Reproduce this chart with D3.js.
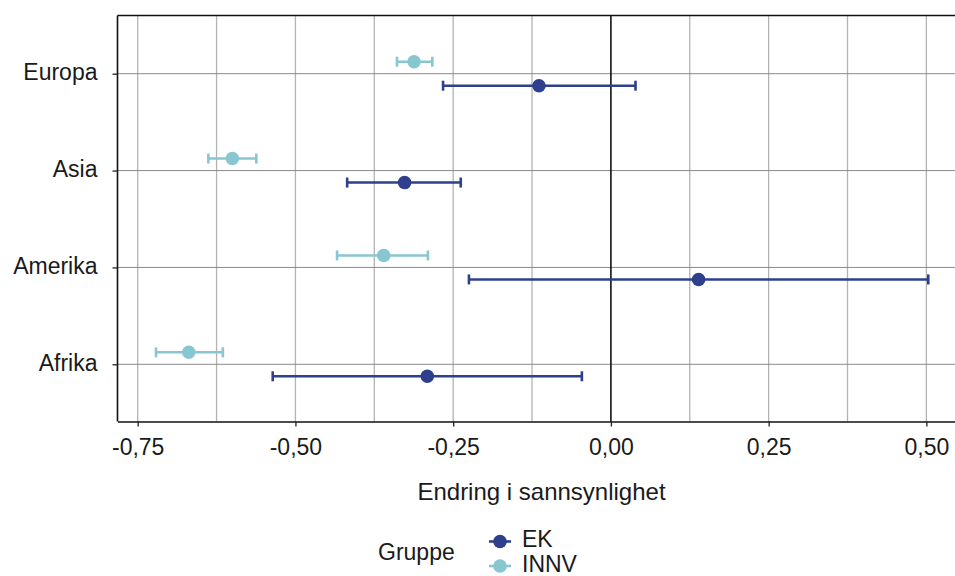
<!DOCTYPE html>
<html>
<head>
<meta charset="utf-8">
<script src="https://cdn.jsdelivr.net/npm/d3@7"></script>
<style>
  body { margin: 0; background: #fff; }
  svg { display: block; font-family: "Liberation Sans", Arial, sans-serif; }
  .grid-v line { stroke: #b3b3b3; stroke-width: 1.3; }
  .grid-h line { stroke: #8a8a8a; stroke-width: 1; }
  .axis text { fill: #1a1a1a; font-size: 23px; }
</style>
</head>
<body>
<svg id="chart" width="955" height="576"></svg>
<script>
// regions top to bottom
const regions = ["Europa", "Asia", "Amerika", "Afrika"];
const groups = ["EK", "INNV"];

// EK estimates with interval
const ekEst = [-0.114, -0.327, 0.139, -0.291];
const ekLow = [-0.266, -0.418, -0.225, -0.536];
const ekHigh = [0.039, -0.238, 0.503, -0.046];

// INNV estimates with interval
const innvEst = [-0.312, -0.600, -0.360, -0.669];
const innvLow = [-0.339, -0.638, -0.434, -0.721];
const innvHigh = [-0.283, -0.562, -0.290, -0.615];

const xTicks = [-0.75, -0.5, -0.25, 0, 0.25, 0.5];
const xMinor = [-0.625, -0.375, -0.125, 0.125, 0.375];

const colors = { EK: "#2e3f8b", INNV: "#88c6d0" };

const svg = d3.select("#chart");
const plotLeft = 117.5, plotRight = 965.5, plotTop = 15.5, plotBottom = 421.5;

const x = d3.scaleLinear().domain([-0.782, 0.562]).range([plotLeft, plotRight]);
const y = d3.scalePoint().domain(regions).range([73.7, 364.3]);
const dodge = d3.scalePoint().domain(["INNV", "EK"]).range([-12, 12]);
const fmt = v => d3.format(".2f")(v).replace(".", ",").replace("−", "-");

// build rows from arrays
const rows = [];
regions.forEach((r, i) => {
    rows.push({ region: r, group: "EK", est: ekEst[i], low: ekLow[i], high: ekHigh[i] });
    rows.push({ region: r, group: "INNV", est: innvEst[i], low: innvLow[i], high: innvHigh[i] });
});

// vertical gridlines (major + minor)
svg.append("g").attr("class", "grid-v")
    .selectAll("line")
    .data(xTicks.concat(xMinor).filter(v => v !== 0))
    .join("line")
    .attr("x1", d => x(d)).attr("x2", d => x(d))
    .attr("y1", plotTop).attr("y2", plotBottom);

// horizontal gridlines at categories
svg.append("g").attr("class", "grid-h")
    .selectAll("line")
    .data(regions)
    .join("line")
    .attr("x1", plotLeft).attr("x2", plotRight)
    .attr("y1", d => y(d)).attr("y2", d => y(d));

// zero line
svg.append("line")
    .attr("x1", x(0)).attr("x2", x(0))
    .attr("y1", plotTop).attr("y2", plotBottom)
    .attr("stroke", "#111").attr("stroke-width", 1.6);

// top border
svg.append("line")
    .attr("x1", plotLeft).attr("x2", plotRight)
    .attr("y1", plotTop).attr("y2", plotTop)
    .attr("stroke", "#111").attr("stroke-width", 1.6);

// x axis
const xAxis = svg.append("g").attr("class", "axis")
    .attr("transform", `translate(0,${plotBottom})`)
    .call(d3.axisBottom(x).tickValues(xTicks).tickFormat(fmt).tickSize(5).tickPadding(12).tickSizeOuter(0));
xAxis.select(".domain").attr("stroke", "#111").attr("stroke-width", 1.6);
xAxis.selectAll(".tick line").attr("stroke", "#222").attr("stroke-width", 1.3);

// y axis
const yAxis = svg.append("g").attr("class", "axis")
    .attr("transform", `translate(${plotLeft},0)`)
    .call(d3.axisLeft(y).tickSize(5).tickPadding(15).tickSizeOuter(0));
yAxis.select(".domain").attr("d", `M0,${plotTop}V${plotBottom}`).attr("stroke", "#111").attr("stroke-width", 1.6);
yAxis.selectAll(".tick line").attr("stroke", "#222").attr("stroke-width", 1.3);
yAxis.selectAll(".tick text").attr("dy", "0.26em");

// error bars
const bars = svg.append("g").selectAll("g")
    .data(rows)
    .join("g")
    .attr("transform", d => `translate(0,${y(d.region) + dodge(d.group)})`)
    .attr("stroke", d => colors[d.group])
    .attr("stroke-width", 2.6);

bars.append("line")
    .attr("x1", d => x(d.low)).attr("x2", d => x(d.high));
bars.append("line")
    .attr("x1", d => x(d.low)).attr("x2", d => x(d.low))
    .attr("y1", -5).attr("y2", 5);
bars.append("line")
    .attr("x1", d => x(d.high)).attr("x2", d => x(d.high))
    .attr("y1", -5).attr("y2", 5);

// points
svg.append("g").selectAll("circle")
    .data(rows)
    .join("circle")
    .attr("cx", d => x(d.est))
    .attr("cy", d => y(d.region) + dodge(d.group))
    .attr("r", 6.8)
    .attr("fill", d => colors[d.group]);

// axis title
svg.append("text")
    .attr("x", (plotLeft + plotRight) / 2).attr("y", 500)
    .attr("text-anchor", "middle")
    .attr("font-size", 24).attr("fill", "#1a1a1a")
    .text("Endring i sannsynlighet");

// legend
const legend = svg.append("g");
legend.append("text")
    .attr("x", 378).attr("y", 560)
    .attr("font-size", 23).attr("fill", "#1a1a1a")
    .text("Gruppe");

const items = legend.selectAll("g.item")
    .data(groups)
    .join("g")
    .attr("class", "item")
    .attr("transform", (d, i) => `translate(500,${541.5 + i * 24.5})`);
items.append("line")
    .attr("x1", -11).attr("x2", 11)
    .attr("stroke", d => colors[d]).attr("stroke-width", 2.6);
items.append("circle")
    .attr("r", 6.8).attr("fill", d => colors[d]);
items.append("text")
    .attr("x", 22).attr("y", 5.5)
    .attr("font-size", 23).attr("fill", "#1a1a1a")
    .text(d => d);
</script>
</body>
</html>
